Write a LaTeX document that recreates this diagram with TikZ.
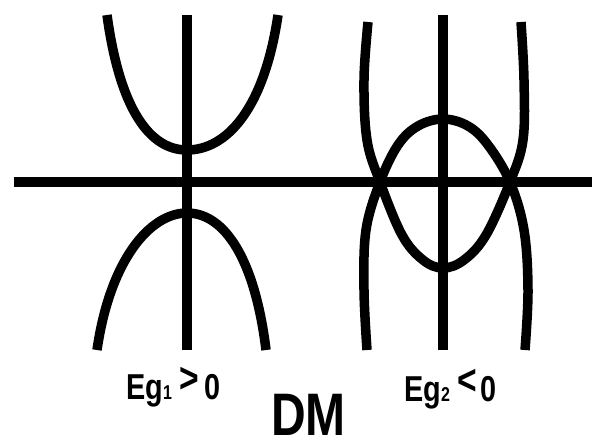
\documentclass[tikz,border=0pt]{standalone}
\usepackage{fontspec}
\newfontfamily\labfont[FakeStretch=0.8]{Liberation Sans}
\newcommand{\subdig}[1]{{\fontsize{20}{20}\selectfont #1}}
\newcommand{\relsym}[1]{\raisebox{7pt}{\fontsize{42}{42}\selectfont #1}}
\begin{document}
\begin{tikzpicture}[x=1pt,y=-1pt,
  axis/.style={line width=10pt},
  band/.style={line width=9.5pt},
  lab/.style={inner sep=0pt, anchor=base west, font=\labfont\bfseries\fontsize{36}{36}\selectfont}]
\useasboundingbox (0,0) rectangle (592,440);
% axes
\coordinate (hl) at (14,182);
\coordinate (hr) at (592,182);
\coordinate (v1t) at (187,15);
\coordinate (v1b) at (187,350);
\coordinate (v2t) at (443,15);
\coordinate (v2b) at (443,350);
\draw[axis] (hl) -- (hr);
\draw[axis] (v1t) -- (v1b);
\draw[axis] (v2t) -- (v2b);
% left: conduction band (upward)
\coordinate (c1l) at (107,15);
\coordinate (c1v) at (187,150);
\coordinate (c1r) at (278,15);
\draw[band] (c1l) .. controls (120,110) and (150,150) .. (c1v)
            .. controls (226,150) and (264,110) .. (c1r);
% left: valence band (downward)
\coordinate (v1l) at (97,350);
\coordinate (v1v) at (187,213);
\coordinate (v1r) at (266,350);
\draw[band] (v1l) .. controls (110,260) and (150,213) .. (v1v)
            .. controls (225,213) and (255,260) .. (v1r);
% right: downward band
\draw[band] plot[smooth, tension=0.6] coordinates {(367,350) (364,290) (366,230) (380,182) (398,145) (418,126) (443,119) (468,126) (488,145) (510,182) (524,230) (528,290) (525,350)};
% right: upward band
\draw[band] plot[smooth, tension=0.6] coordinates {(368,22) (364,80) (367,140) (380,182) (402,235) (423,260) (443,268) (464,260) (486,235) (510,182) (523,140) (524,80) (521,22)};
% labels
\node[lab] (eg1) at (126,399) {Eg\subdig{1}\hspace{8pt}\relsym{>}\hspace{5pt}0};
\node[lab] (eg2) at (404,401) {Eg\subdig{2}\hspace{8pt}\relsym{<}\hspace{3pt}0};
\node[lab, font=\labfont\bfseries\fontsize{60}{60}\selectfont] (dm) at (271,435) {DM};
\end{tikzpicture}
\end{document}
